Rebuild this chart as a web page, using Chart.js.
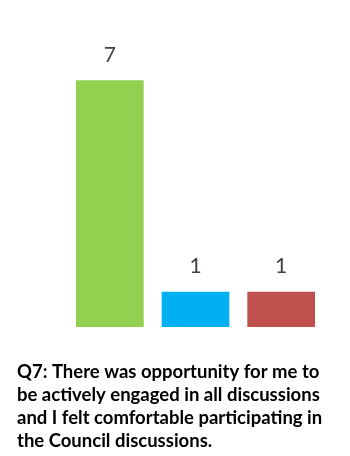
<!DOCTYPE html>
<html>
<head>
<meta charset="utf-8">
<script src="https://cdn.jsdelivr.net/npm/chart.js@4/dist/chart.umd.min.js"></script>
<style>
  html, body { margin: 0; padding: 0; background: #ffffff; }
  #wrap { width: 350px; height: 456px; }
</style>
</head>
<body>
<div id="wrap"><canvas id="chart" width="350" height="456"></canvas></div>
<script>
// Survey answers for question 7
const categories = ['Strongly agree', 'Agree', 'Neutral'];
const counts = [7, 1, 1];
const barColors = ['#92D050', '#00B0F0', '#C0504D'];
const titleLines = [
  'Q7: There was opportunity for me to',
  'be actively engaged in all discussions',
  'and I felt comfortable participating in',
  'the Council discussions.'
];

// Writes each bar's count above it
const valueLabels = {
  id: 'valueLabels',
  afterDatasetsDraw(chart) {
    const ctx = chart.ctx;
    const meta = chart.getDatasetMeta(0);
    ctx.save();
    ctx.font = '21px Lato, "Liberation Sans", sans-serif';
    ctx.fillStyle = '#404040';
    ctx.textAlign = 'center';
    ctx.textBaseline = 'middle';
    meta.data.forEach((bar, i) => {
      ctx.fillText(String(counts[i]), bar.x, bar.y - 25);
    });
    ctx.restore();
  }
};

new Chart(document.getElementById('chart'), {
  type: 'bar',
  data: {
    labels: categories,
    datasets: [{
      data: counts,
      backgroundColor: barColors,
      borderWidth: 0,
      categoryPercentage: 1,
      barPercentage: 0.79
    }]
  },
  options: {
    responsive: false,
    animation: false,
    layout: { padding: { left: 17, right: 26, top: 45, bottom: 0 } },
    plugins: {
      legend: { display: false },
      tooltip: { enabled: false },
      title: {
        display: true,
        position: 'bottom',
        align: 'start',
        text: titleLines,
        color: '#000000',
        font: { family: 'Lato, "Liberation Sans", sans-serif', size: 18.5, weight: 'bold', lineHeight: 1.23 },
        padding: { top: 34, bottom: 4 }
      }
    },
    scales: {
      x: {
        display: false,
        grid: { display: false }
      },
      y: {
        display: true,
        min: 0,
        max: 8,
        ticks: { display: false },
        grid: { display: false },
        border: { display: false },
        afterFit(scale) { scale.width = 50; }
      }
    }
  },
  plugins: [valueLabels]
});
</script>
</body>
</html>
